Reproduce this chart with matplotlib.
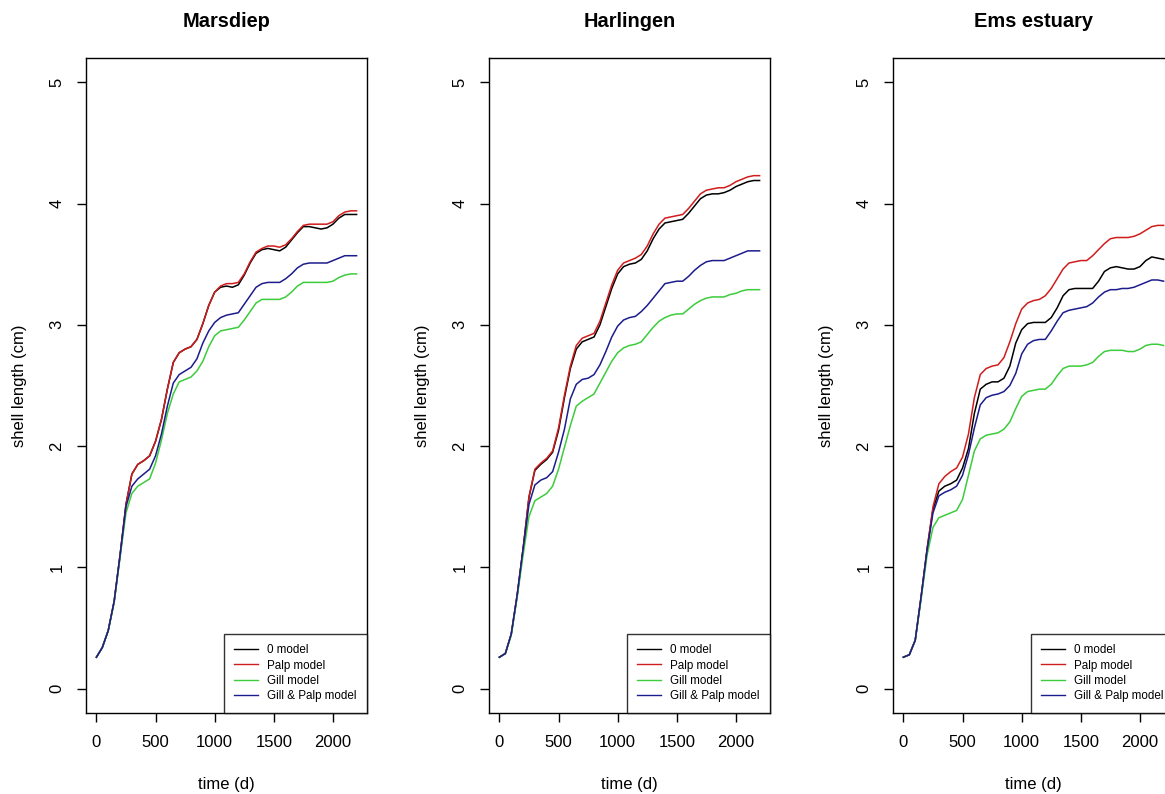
import numpy as np
import matplotlib
matplotlib.use('Agg')
import matplotlib.pyplot as plt

plt.rcParams['font.family'] = ['Liberation Sans', 'DejaVu Sans']

# time axis, one sample every 50 days
days = np.arange(0, 2201, 50)

# Marsdiep
mars_0 = [0.26, 0.34, 0.48, 0.72, 1.10, 1.52, 1.77, 1.85, 1.88, 1.92, 2.04, 2.22, 2.47, 2.69, 2.77,
          2.80, 2.82, 2.88, 3.01, 3.16, 3.27, 3.31, 3.32, 3.31, 3.33, 3.41, 3.51, 3.59, 3.62, 3.63,
          3.62, 3.61, 3.64, 3.70, 3.76, 3.81, 3.81, 3.80, 3.79, 3.80, 3.83, 3.88, 3.91, 3.91, 3.91]
mars_palp = [0.26, 0.34, 0.48, 0.72, 1.10, 1.52, 1.77, 1.85, 1.88, 1.92, 2.04, 2.22, 2.47, 2.69, 2.77,
             2.80, 2.82, 2.88, 3.01, 3.16, 3.27, 3.32, 3.34, 3.34, 3.35, 3.42, 3.52, 3.60, 3.63, 3.65,
             3.65, 3.64, 3.66, 3.71, 3.77, 3.82, 3.83, 3.83, 3.83, 3.83, 3.85, 3.90, 3.93, 3.94, 3.94]
mars_gill = [0.26, 0.34, 0.48, 0.71, 1.08, 1.45, 1.61, 1.67, 1.70, 1.73, 1.86, 2.05, 2.27, 2.43, 2.53,
             2.55, 2.57, 2.62, 2.70, 2.82, 2.91, 2.95, 2.96, 2.97, 2.98, 3.04, 3.11, 3.18, 3.21, 3.21,
             3.21, 3.21, 3.23, 3.27, 3.32, 3.35, 3.35, 3.35, 3.35, 3.35, 3.36, 3.39, 3.41, 3.42, 3.42]
mars_both = [0.26, 0.34, 0.48, 0.72, 1.10, 1.50, 1.67, 1.73, 1.77, 1.81, 1.92, 2.10, 2.33, 2.52, 2.59,
             2.62, 2.65, 2.72, 2.85, 2.95, 3.02, 3.06, 3.08, 3.09, 3.10, 3.17, 3.24, 3.31, 3.34, 3.35,
             3.35, 3.35, 3.38, 3.42, 3.47, 3.50, 3.51, 3.51, 3.51, 3.51, 3.53, 3.55, 3.57, 3.57, 3.57]

# Harlingen
harl_0 = [0.26, 0.29, 0.45, 0.77, 1.15, 1.58, 1.80, 1.85, 1.89, 1.95, 2.13, 2.40, 2.64, 2.80, 2.86,
          2.88, 2.90, 3.00, 3.15, 3.30, 3.42, 3.48, 3.50, 3.51, 3.54, 3.61, 3.71, 3.79, 3.84, 3.85,
          3.86, 3.87, 3.92, 3.98, 4.04, 4.07, 4.08, 4.08, 4.09, 4.11, 4.14, 4.16, 4.18, 4.19, 4.19]
harl_palp = [0.26, 0.29, 0.45, 0.77, 1.15, 1.58, 1.81, 1.86, 1.90, 1.96, 2.15, 2.42, 2.66, 2.83, 2.89,
             2.91, 2.93, 3.03, 3.18, 3.33, 3.45, 3.51, 3.53, 3.55, 3.58, 3.65, 3.75, 3.83, 3.88, 3.89,
             3.90, 3.91, 3.96, 4.02, 4.08, 4.11, 4.12, 4.13, 4.13, 4.15, 4.18, 4.20, 4.22, 4.23, 4.23]
harl_gill = [0.26, 0.29, 0.44, 0.75, 1.10, 1.42, 1.55, 1.58, 1.61, 1.67, 1.81, 1.99, 2.17, 2.33, 2.37,
             2.40, 2.43, 2.52, 2.61, 2.70, 2.77, 2.81, 2.83, 2.84, 2.86, 2.92, 2.98, 3.03, 3.06, 3.08,
             3.09, 3.09, 3.13, 3.17, 3.20, 3.22, 3.23, 3.23, 3.23, 3.25, 3.26, 3.28, 3.29, 3.29, 3.29]
harl_both = [0.26, 0.29, 0.45, 0.77, 1.15, 1.52, 1.68, 1.72, 1.74, 1.79, 1.95, 2.14, 2.39, 2.51, 2.55,
             2.56, 2.59, 2.67, 2.78, 2.90, 2.99, 3.04, 3.06, 3.07, 3.11, 3.16, 3.22, 3.28, 3.34, 3.35,
             3.36, 3.36, 3.40, 3.45, 3.49, 3.52, 3.53, 3.53, 3.53, 3.55, 3.57, 3.59, 3.61, 3.61, 3.61]

# Ems estuary
ems_0 = [0.26, 0.28, 0.40, 0.76, 1.15, 1.48, 1.63, 1.67, 1.69, 1.72, 1.82, 1.98, 2.27, 2.47, 2.51,
         2.53, 2.53, 2.56, 2.66, 2.85, 2.96, 3.01, 3.02, 3.02, 3.02, 3.06, 3.14, 3.24, 3.29, 3.30,
         3.30, 3.30, 3.30, 3.36, 3.44, 3.47, 3.48, 3.47, 3.46, 3.46, 3.48, 3.53, 3.56, 3.55, 3.54]
ems_palp = [0.26, 0.28, 0.40, 0.76, 1.15, 1.50, 1.69, 1.75, 1.79, 1.82, 1.91, 2.10, 2.40, 2.59, 2.64,
            2.66, 2.67, 2.73, 2.86, 3.01, 3.13, 3.18, 3.20, 3.21, 3.24, 3.30, 3.38, 3.46, 3.51, 3.52,
            3.53, 3.53, 3.57, 3.62, 3.67, 3.71, 3.72, 3.72, 3.72, 3.73, 3.75, 3.78, 3.81, 3.82, 3.82]
ems_gill = [0.26, 0.28, 0.40, 0.74, 1.10, 1.33, 1.41, 1.43, 1.45, 1.47, 1.56, 1.76, 1.96, 2.06, 2.09,
            2.10, 2.11, 2.14, 2.20, 2.31, 2.41, 2.45, 2.46, 2.47, 2.47, 2.51, 2.58, 2.64, 2.66, 2.66,
            2.66, 2.67, 2.69, 2.74, 2.78, 2.79, 2.79, 2.79, 2.78, 2.78, 2.80, 2.83, 2.84, 2.84, 2.83]
ems_both = [0.26, 0.28, 0.40, 0.76, 1.14, 1.45, 1.59, 1.62, 1.64, 1.67, 1.76, 1.93, 2.15, 2.34, 2.40,
            2.42, 2.43, 2.45, 2.50, 2.60, 2.76, 2.84, 2.87, 2.88, 2.88, 2.95, 3.03, 3.10, 3.12, 3.13,
            3.14, 3.15, 3.18, 3.23, 3.27, 3.29, 3.29, 3.30, 3.30, 3.31, 3.33, 3.35, 3.37, 3.37, 3.36]

sites = ['Marsdiep', 'Harlingen', 'Ems estuary']
site_data = [
    [mars_0, mars_palp, mars_gill, mars_both],
    [harl_0, harl_palp, harl_gill, harl_both],
    [ems_0, ems_palp, ems_gill, ems_both],
]
models = ['0 model', 'Palp model', 'Gill model', 'Gill & Palp model']
colours = ['black', '#d01c1c', '#3ccc3c', '#1c1c8c']

W, H = 1165, 794
fig = plt.figure(figsize=(W / 100, H / 100), dpi=100)

# panel placement in pixels: left edges, width, top, bottom
lefts = [86, 489, 893]
pw = 281
top, bottom = 58, 713

for i, site in enumerate(sites):
    ax = fig.add_axes([lefts[i] / W, (H - bottom) / H, pw / W, (bottom - top) / H])
    for vals, col, lab in zip(site_data[i], colours, models):
        ax.plot(days, vals, color=col, lw=1.1, label=lab)
    ax.set_xlim(-88, 2288)
    ax.set_ylim(-0.2, 5.2)
    ax.set_xticks([0, 500, 1000, 1500, 2000])
    ax.set_yticks([0, 1, 2, 3, 4, 5])
    ax.set_yticklabels(['0', '1', '2', '3', '4', '5'], rotation=90, va='center')
    ax.tick_params(axis='both', direction='out', length=6.5, width=1.0,
                   labelsize=12, colors='black')
    ax.tick_params(axis='x', pad=9)
    ax.tick_params(axis='y', pad=9)
    for sp in ax.spines.values():
        sp.set_linewidth(1.0)
    ax.set_title(site, fontsize=14.4, fontweight='bold', pad=22)
    ax.set_xlabel('time (d)', fontsize=12)
    ax.set_ylabel('shell length (cm)', fontsize=12)
    ax.xaxis.set_label_coords(0.5, -0.097)
    ax.yaxis.set_label_coords(-0.21, 0.5)
    leg = ax.legend(loc='lower right', fontsize=8.4, frameon=True, fancybox=False,
                    borderaxespad=0, borderpad=0.9, handlelength=2.0,
                    handletextpad=0.8, labelspacing=0.3)
    leg.get_frame().set_edgecolor('black')
    leg.get_frame().set_linewidth(1.0)
    for ln in leg.get_lines():
        ln.set_linewidth(1.0)

fig.savefig('out.png', dpi=100)
